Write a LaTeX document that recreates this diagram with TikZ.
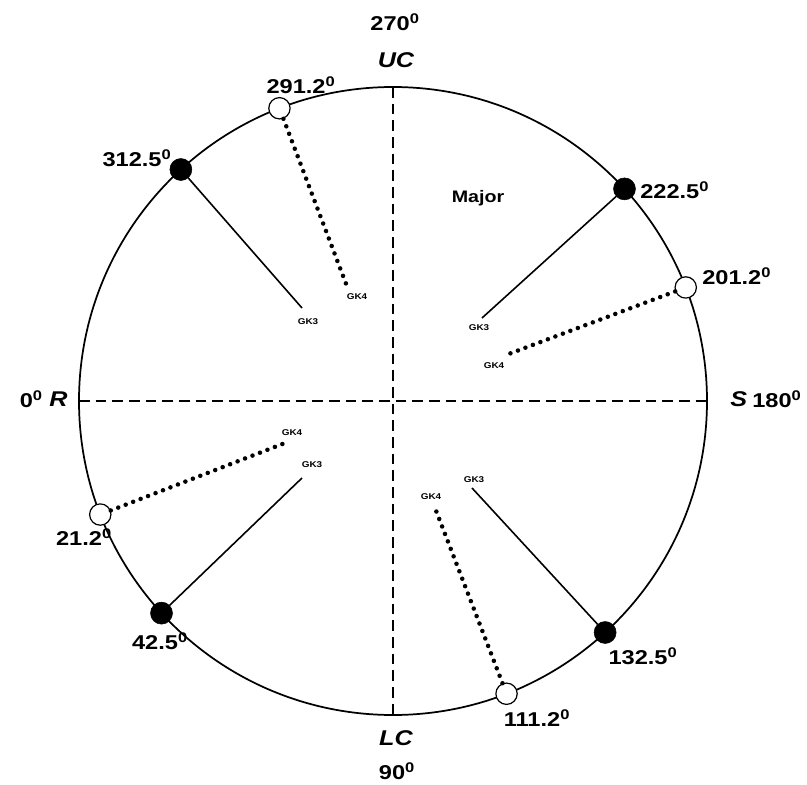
\documentclass[tikz,border=0pt]{standalone}
\usepackage{fontspec}
\setmainfont{Liberation Sans}[FakeStretch=1.18]
\usetikzlibrary{calc}
\tikzset{
  lbl/.style={font=\bfseries\fontsize{15}{16}\selectfont, inner sep=0pt},
  axislbl/.style={font=\bfseries\itshape\fontsize{16}{18}\selectfont, inner sep=0pt},
  tiny/.style={font=\bfseries\fontsize{6.3}{7}\selectfont, inner sep=0pt},
  solidpt/.style={circle, fill=black, draw=black, minimum size=16.5pt, inner sep=0pt},
  openpt/.style={circle, fill=white, draw=black, line width=0.9pt, minimum size=16pt, inner sep=0pt},
  arm/.style={line width=1.2pt},
  dotarm/.style={line width=3.4pt, line cap=round, dash pattern=on 0pt off 6pt},
  axis/.style={line width=1.1pt, dash pattern=on 8pt off 4.5pt},
}
\newcommand{\dg}{\textsuperscript{0}}
\begin{document}
\begin{tikzpicture}[x=0.75pt, y=-0.75pt]
\useasboundingbox (0,0) rectangle (807,785);
\def\R{314}
\coordinate (O) at (393,401);

% main circle and reference axes
\draw[line width=1.3pt] (O) circle[radius=\R];
\coordinate (Lft) at ($(O)+(-\R,0)$);
\coordinate (Rgt) at ($(O)+(\R,0)$);
\coordinate (Top) at ($(O)+(0,-\R)$);
\coordinate (Bot) at ($(O)+(0,\R)$);
\draw[axis] (Lft) -- (Rgt);
\draw[axis] (Top) -- (Bot);

% axis labels
\node[lbl] (t270) at (395,22) {270\dg};
\node[axislbl] (uc) at (396,60) {UC};
\node[axislbl] (lc) at (396,738) {LC};
\node[lbl] (t90) at (397,771) {90\dg};
\node[lbl, anchor=east] (t0) at (43,399) {0\dg};
\node[axislbl, anchor=west] (rr) at (49,399) {R};
\node[axislbl, anchor=west] (ss) at (730,399) {S};
\node[lbl, anchor=west] (t180) at (752,399) {180\dg};
\node[font=\bfseries\fontsize{12.5}{14}\selectfont, inner sep=0pt] (major) at (478,198) {Major};

% positions on the circle: angle a measured from R, increasing toward LC
\foreach \nm/\a in {p3125/312.5, p2225/222.5, p1325/132.5, p425/42.5}
  \node[solidpt] (\nm) at ($(O)+({-\R*cos(\a)},{\R*sin(\a)})$) {};
\foreach \nm/\a in {p2912/291.2, p2012/201.2, p1112/111.2, p212/21.2}
  \node[openpt] (\nm) at ($(O)+({-\R*cos(\a)},{\R*sin(\a)})$) {};

% inner end points of the arms
\coordinate (e3125) at (302,308);
\coordinate (e2912) at (348,289);
\coordinate (e2225) at (482,318);
\coordinate (e2012) at (506,355);
\coordinate (e425) at (302,478);
\coordinate (e212) at (285,443);
\coordinate (e1325) at (472,488);
\coordinate (e1112) at (435,508);

\draw[arm] (p3125) -- (e3125);
\draw[arm] (p2225) -- (e2225);
\draw[arm] (p425) -- (e425);
\draw[arm] (p1325) -- (e1325);
\draw[dotarm] (p2912) -- (e2912);
\draw[dotarm] (p2012) -- (e2012);
\draw[dotarm] (p212) -- (e212);
\draw[dotarm] (p1112) -- (e1112);

% arm labels
\node[tiny] (g1) at (308,322) {GK3};
\node[tiny] (g2) at (357,297) {GK4};
\node[tiny] (g3) at (479,328) {GK3};
\node[tiny] (g4) at (494,366) {GK4};
\node[tiny] (g5) at (312,465) {GK3};
\node[tiny] (g6) at (292,433) {GK4};
\node[tiny] (g7) at (474,480) {GK3};
\node[tiny] (g8) at (431,497) {GK4};

% angle labels
\node[lbl] (a3125) at (137,158) {312.5\dg};
\node[lbl] (a2912) at (301,85) {291.2\dg};
\node[lbl, anchor=west] (a2225) at (640,190) {222.5\dg};
\node[lbl, anchor=west] (a2012) at (702,276) {201.2\dg};
\node[lbl] (a1325) at (643,656) {132.5\dg};
\node[lbl] (a1112) at (537,718) {111.2\dg};
\node[lbl] (a425) at (160,641) {42.5\dg};
\node[lbl] (a212) at (84,537) {21.2\dg};
\end{tikzpicture}
\end{document}
